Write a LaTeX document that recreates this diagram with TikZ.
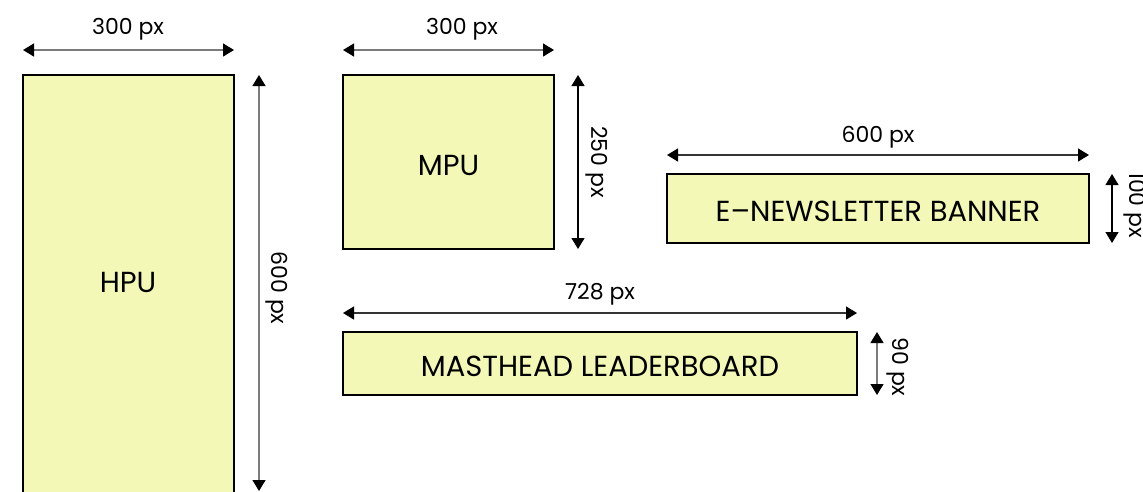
\documentclass[tikz,border=0pt]{standalone}
\usepackage{fontspec}
\setmainfont{Poppins}
\usetikzlibrary{arrows.meta}
\definecolor{adfill}{HTML}{F3F8B6}
\definecolor{dimline}{HTML}{7A7A7A}
\tikzset{
  adbox/.style={draw=black, line width=2.2pt, fill=adfill, inner sep=0pt},
  adlabel/.style={font=\fontsize{29}{32}\selectfont, yshift=-3pt},
  dimarrow/.style={draw=dimline, line width=1.3pt,
    {Triangle[length=11pt,width=13pt,fill=black,color=black]}-{Triangle[length=11pt,width=13pt,fill=black,color=black]}},
  dimtext/.style={font=\fontsize{22}{25}\selectfont, inner sep=0pt},
}
\begin{document}
\begin{tikzpicture}[x=1pt,y=-1pt]
\useasboundingbox (0,0) rectangle (1143,491);

% HPU (runs off the lower edge)
\coordinate (hpuTL) at (23,75);
\coordinate (hpuBR) at (234,520);
\draw[adbox] (hpuTL) rectangle (hpuBR);
\node[adlabel] (hpu) at (128,279) {HPU};
\coordinate (hpuA1) at (23,50);
\coordinate (hpuA2) at (234,50);
\draw[dimarrow] (hpuA1) -- (hpuA2);
\node[dimtext] (hpuW) at (128,29) {300 px};
\coordinate (hpuV1) at (259,75);
\coordinate (hpuV2) at (259,491);
\draw[dimarrow] (hpuV1) -- (hpuV2);
\node[dimtext, rotate=-90] (hpuH) at (277,288) {600 px};

% MPU
\node[adbox, minimum width=211pt, minimum height=174pt] (mpu) at (448.5,162) {};
\node[adlabel] (mpuT) at (mpu.center) {MPU};
\coordinate (mpuA1) at (343,50);
\coordinate (mpuA2) at (554,50);
\draw[dimarrow] (mpuA1) -- (mpuA2);
\node[dimtext] (mpuW) at (462,29) {300 px};
\coordinate (mpuV1) at (578,75);
\coordinate (mpuV2) at (578,249);
\draw[dimarrow, draw=black] (mpuV1) -- (mpuV2);
\node[dimtext, rotate=-90] (mpuH) at (597,162) {250 px};

% E-newsletter banner
\node[adbox, minimum width=422pt, minimum height=69pt] (enews) at (878,208.5) {};
\node[adlabel] (enewsT) at (enews.center) {E–NEWSLETTER BANNER};
\coordinate (enA1) at (667,155);
\coordinate (enA2) at (1089,155);
\draw[dimarrow, draw=black!80] (enA1) -- (enA2);
\node[dimtext] (enW) at (878,137) {600 px};
\coordinate (enV1) at (1112,174);
\coordinate (enV2) at (1112,243);
\draw[dimarrow, draw=black] (enV1) -- (enV2);
\node[dimtext, rotate=-90] (enH) at (1135,205) {100 px};

% Masthead leaderboard
\node[adbox, minimum width=514pt, minimum height=63pt] (mast) at (600,363.5) {};
\node[adlabel] (mastT) at (mast.center) {MASTHEAD LEADERBOARD};
\coordinate (maA1) at (343,313);
\coordinate (maA2) at (857,313);
\draw[dimarrow, draw=black!80] (maA1) -- (maA2);
\node[dimtext] (maW) at (600,294) {728 px};
\coordinate (maV1) at (877,332);
\coordinate (maV2) at (877,395);
\draw[dimarrow] (maV1) -- (maV2);
\node[dimtext, rotate=-90] (maH) at (898,367) {90 px};
\end{tikzpicture}
\end{document}
